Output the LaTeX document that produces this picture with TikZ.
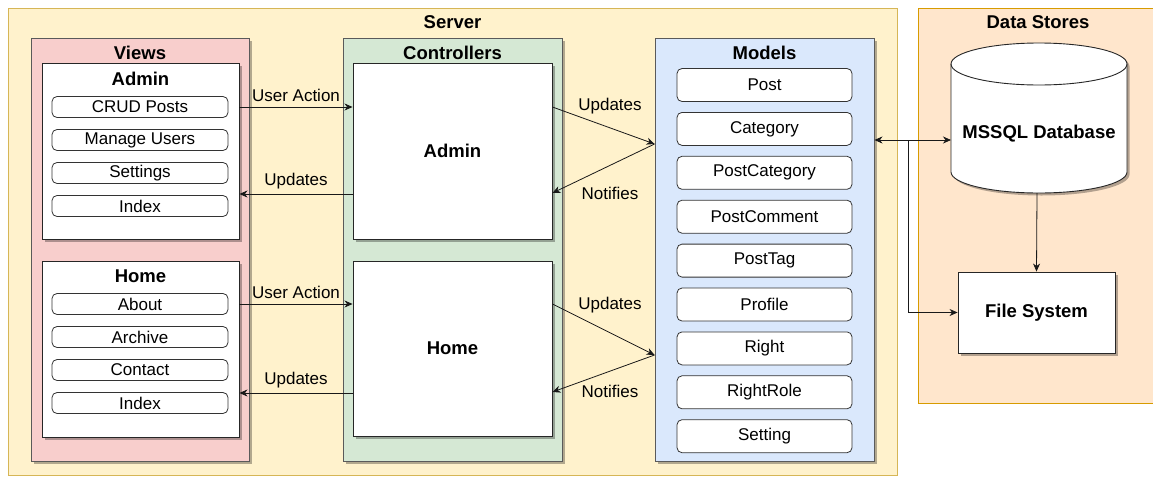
\documentclass[tikz,border=0pt]{standalone}
\usepackage{fontspec}
\setmainfont{Liberation Sans}
\usetikzlibrary{arrows.meta,shadows,calc}
\definecolor{srvfill}{HTML}{FFF2CC}
\definecolor{srvline}{HTML}{D6B656}
\definecolor{dsfill}{HTML}{FFE6CC}
\definecolor{dsline}{HTML}{D79B00}
\definecolor{viewfill}{HTML}{F8CECC}
\definecolor{ctrlfill}{HTML}{D5E8D4}
\definecolor{modfill}{HTML}{DAE8FC}
\definecolor{boxline}{HTML}{5A5A5A}
\newcommand\txtreg{\fontsize{17}{20}\selectfont}
\newcommand\txtbold{\fontsize{18.5}{22}\selectfont\bfseries}
\tikzset{
  shade3/.style={drop shadow={shadow xshift=2.5pt,shadow yshift=-2.5pt,fill=black,opacity=0.3}},
  zone/.style={draw=#1, line width=0.8pt, inner sep=0pt},
  group/.style={draw=boxline, fill=#1, line width=0.9pt, inner sep=0pt, shade3},
  panel/.style={draw=black!85, fill=white, line width=0.9pt, inner sep=0pt, shade3},
  item/.style={draw=black!80, fill=white, rounded corners=5pt, line width=0.8pt,
    inner sep=0pt, font=\txtreg},
  title/.style={font=\txtbold, inner sep=0pt},
  lbl/.style={font=\txtreg, inner sep=0pt},
  conn/.style={draw=black!90, line width=0.8pt, -{Stealth[length=8pt,width=7pt,inset=2.5pt]}},
}
\begin{document}
\begin{tikzpicture}[x=1pt,y=-1pt]
\useasboundingbox[fill=white] (0,0) rectangle (1153,477);

% outer zones
\node[zone=srvline, fill=srvfill, minimum width=889pt, minimum height=467pt] (server) at (452.5,241.5) {};
\node[title] (servert) at (452.5,22) {Server};
\node[zone=dsline, fill=dsfill, minimum width=236pt, minimum height=395pt] (stores) at (1036,205.5) {};
\node[title] (storest) at (1038,22) {Data Stores};

% Views column
\node[group=viewfill, minimum width=218pt, minimum height=423pt] (views) at (140,249.5) {};
\node[title] (viewst) at (140,53) {Views};
\node[panel, minimum width=197pt, minimum height=176pt] (vadmin) at (140.5,151) {};
\node[title] (vadmint) at (140.5,79) {Admin};
\foreach \name/\txt/\yy in {vcrud/CRUD Posts/107, vusers/Manage Users/140, vset/Settings/173, vaidx/Index/206}
  \node[item, minimum width=176pt, minimum height=21pt] (\name) at (140,\yy) {\txt};
\node[panel, minimum width=197pt, minimum height=176pt] (vhome) at (140.5,349) {};
\node[title] (vhomet) at (140.5,276) {Home};
\foreach \name/\txt/\yy in {vabout/About/304, varch/Archive/337, vcont/Contact/370, vhidx/Index/403}
  \node[item, minimum width=176pt, minimum height=21pt] (\name) at (140,\yy) {\txt};

% Controllers column
\node[group=ctrlfill, minimum width=219pt, minimum height=423pt] (ctrls) at (452.5,249.5) {};
\node[title] (ctrlst) at (452.5,53) {Controllers};
\node[panel, minimum width=199pt, minimum height=176pt, font=\txtbold] (cadmin) at (452.5,151) {Admin};
\node[panel, minimum width=199pt, minimum height=175pt, font=\txtbold] (chome) at (452.5,348.5) {Home};

% Models column
\node[group=modfill, minimum width=219pt, minimum height=423pt] (models) at (764.5,249.5) {};
\node[title] (modelst) at (764.5,53) {Models};
\foreach \name/\txt [count=\i from 0] in {mpost/Post, mcat/Category, mpcat/PostCategory,
    mpcom/PostComment, mptag/PostTag, mprof/Profile, mright/Right, mrrole/RightRole, mset/Setting}
  \node[item, minimum width=175pt, minimum height=33pt] (\name) at (764.5,85+43.9*\i) {\txt};

% Data stores: database cylinder (arc angles run clockwise on the page here)
\node[inner sep=0pt, minimum width=176pt, minimum height=150pt] (db) at (1039,118) {};
\path[draw=black!85, fill=white, line width=0.9pt, shade3]
  (951,64) -- (951,172) arc (180:0:88 and 21) -- (1127,64) arc (0:-180:88 and 21) -- cycle;
\draw[black!85, line width=0.9pt] (951,64) arc (180:0:88 and 21);
\node[title] (dbt) at (1039,134) {MSSQL Database};
\node[panel, minimum width=157pt, minimum height=81pt, font=\txtbold] (fs) at (1036.5,312.5) {File System};

% connector end points
\coordinate (dbport) at (951,140);
\coordinate (split) at (908,140);
\coordinate (dbbase) at (1037,193);

% Views <-> Controllers
\draw[conn] (vadmin.east |- vcrud) -- node[lbl, above=5pt] {User Action} (cadmin.west |- vcrud);
\draw[conn] (cadmin.west |- 0,194) -- node[lbl, above=5pt] {Updates} (vadmin.east |- 0,194);
\draw[conn] (vhome.east |- vabout) -- node[lbl, above=5pt] {User Action} (chome.west |- vabout);
\draw[conn] (chome.west |- 0,393) -- node[lbl, above=5pt] {Updates} (vhome.east |- 0,393);

% Controllers <-> Models
\draw[conn] (cadmin.east |- vcrud) -- (models.west |- 0,144);
\draw[conn] (models.west |- 0,144) -- (cadmin.east |- 0,193);
\node[lbl] (upd1) at (610,106) {Updates};
\node[lbl] (not1) at (610,193) {Notifies};
\draw[conn] (chome.east |- vabout) -- (models.west |- 0,355);
\draw[conn] (models.west |- 0,355) -- (chome.east |- 0,392);
\node[lbl] (upd2) at (610,305) {Updates};
\node[lbl] (not2) at (610,391) {Notifies};

% Models <-> Data stores
\draw[conn, {Stealth[length=8pt,width=7pt,inset=2.5pt]}-{Stealth[length=8pt,width=7pt,inset=2.5pt]}]
  (models.east |- dbport) -- (dbport);
\draw[conn] (split) |- (fs.west);
\draw[conn] (dbbase) -- (fs.north);
\end{tikzpicture}
\end{document}
